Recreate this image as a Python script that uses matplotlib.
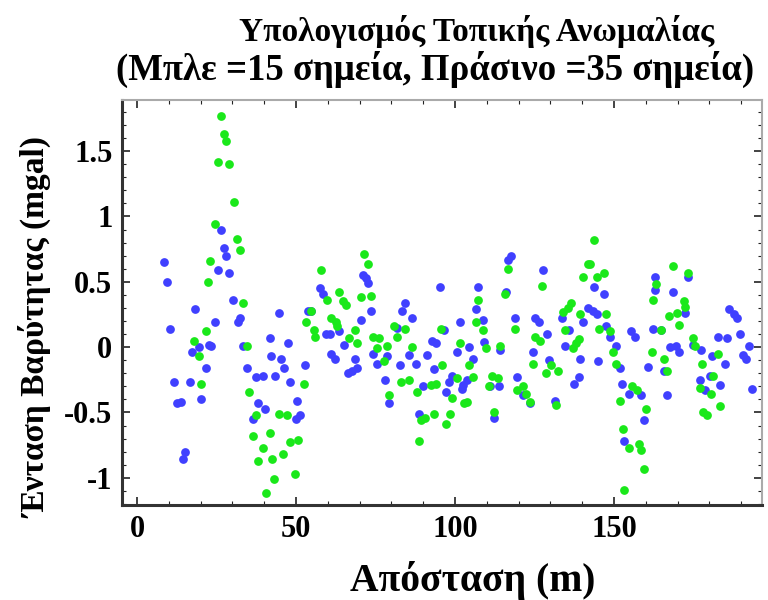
import matplotlib
matplotlib.use("Agg")
import matplotlib.pyplot as plt
from matplotlib.ticker import MultipleLocator, FixedLocator, FixedFormatter

plt.rcParams['font.family'] = ['Liberation Serif', 'DejaVu Serif']
plt.rcParams['axes.unicode_minus'] = False

# Blue = 15 points, green = 35 points
blue_x = [8.6, 9.5, 10.3, 11.5, 12.6, 13.9, 14.5, 15.2, 16.8, 17.3, 18.1, 19.4, 20.2, 21.8,
          22.7, 23.4, 24.6, 25.4, 26.5, 27.4, 28.1, 29.0, 30.2, 31.8, 32.3, 33.3, 34.6, 36.5,
          37.5, 38.1, 39.6, 40.2, 41.7, 42.2, 43.3, 44.6, 45.4, 46.2, 47.5, 48.0, 50.1, 50.3,
          51.2, 52.7, 53.8, 54.8, 57.5, 58.5, 59.5, 60.6, 61.1, 62.2, 63.5, 65.1, 66.4, 67.7,
          68.5, 69.3, 70.5, 71.2, 72.1, 72.7, 73.5, 74.2, 75.4, 77.9, 78.5, 79.2, 81.9, 82.7,
          83.4, 84.2, 85.5, 86.4, 87.6, 88.7, 90.0, 91.3, 92.9, 93.4, 93.9, 95.3, 96.5, 97.2,
          98.2, 99.0, 100.7, 101.6, 102.1, 102.6, 103.7, 104.5, 105.8, 106.6, 107.3, 108.7,
          109.2, 111.0, 112.3, 113.9, 114.2, 116.0, 116.8, 117.5, 118.9, 119.5, 121.5, 123.6,
          124.4, 125.2, 126.5, 127.6, 129.0, 129.7, 131.5, 133.6, 134.7, 136.0, 137.5, 139.1,
          139.4, 140.3, 141.7, 143.3, 143.8, 144.7, 145.0, 147.0, 147.5, 148.8, 150.6, 151.9,
          152.5, 153.2, 154.6, 155.3, 156.7, 158.5, 159.5, 160.8, 162.3, 162.8, 163.0, 164.9,
          165.6, 166.7, 167.7, 168.5, 169.5, 170.4, 172.4, 173.3, 175.0, 176.9, 177.5, 178.7,
          180.3, 180.8, 182.7, 183.4, 184.8, 185.5, 186.3, 187.6, 188.7, 189.7, 190.5, 191.5,
          192.5, 193.4]
blue_y = [0.655, 0.50, 0.135, -0.27, -0.43, -0.42, -0.86, -0.80, -0.27, -0.04, 0.29, 0.00, -0.40, -0.16,
          0.02, 0.01, 0.19, 0.59, 0.90, 0.76, 0.70, 0.57, 0.36, 0.19, 0.22, 0.01, -0.16, -0.55,
          -0.23, -0.43, -0.22, -0.47, 0.07, -0.07, -0.22, 0.26, -0.09, -0.16, 0.03, -0.27, -0.55, -0.41,
          -0.52, -0.14, 0.28, 0.28, 0.45, 0.41, 0.10, 0.10, -0.05, -0.09, 0.12, 0.02, -0.20, -0.18,
          -0.09, -0.16, 0.21, 0.55, 0.53, 0.49, 0.28, -0.05, -0.13, -0.25, -0.07, -0.43, 0.15, -0.14,
          0.28, 0.34, -0.06, 0.22, -0.13, -0.51, -0.30, -0.06, 0.05, -0.17, 0.03, 0.46, 0.13, -0.34,
          -0.27, -0.22, -0.04, 0.19, -0.32, -0.29, -0.25, 0.00, -0.09, 0.29, 0.46, 0.21,
          0.04, -0.30, -0.54, -0.30, -0.02, 0.42, 0.67, 0.70, 0.22, -0.23, -0.37, -0.43,
          -0.04, 0.22, 0.19, 0.59, 0.10, -0.10, -0.41, 0.22, 0.01, 0.13, -0.28, -0.23,
          -0.09, 0.19, 0.30, 0.28, 0.46, 0.25, -0.11, 0.41, 0.16, 0.08, 0.01, -0.16,
          -0.28, -0.72, -0.36, 0.12, 0.08, -0.37, -0.56, -0.15, 0.14, 0.44, 0.54, 0.13,
          -0.18, -0.37, 0.00, 0.42, 0.01, -0.04, 0.26, 0.54, 0.02, -0.25, -0.02, -0.33,
          -0.22, -0.07, 0.08, -0.29, -0.13, 0.07, 0.29, 0.25, 0.22, 0.10, -0.06, -0.09,
          0.01, -0.32]

green_x = [17.8, 19.6, 20.1, 21.8, 22.3, 23.0, 24.4, 25.4, 26.5, 27.3, 28.1, 29.0, 30.4, 31.5,
           32.4, 33.2, 34.6, 35.2, 36.6, 37.3, 38.1, 39.6, 40.4, 41.7, 42.3, 43.2, 44.5, 45.9,
           47.3, 48.0, 49.6, 50.6, 52.5, 53.2, 54.6, 55.7, 56.1, 58.0, 59.8, 61.1, 62.5, 63.0,
           63.5, 64.9, 65.6, 66.7, 68.5, 69.3, 70.5, 71.4, 72.6, 73.5, 74.2, 75.6, 76.1, 77.7,
           78.5, 79.2, 80.8, 81.6, 82.9, 84.2, 85.5, 86.6, 87.9, 88.7, 89.4, 90.5, 92.3, 93.4,
           93.9, 95.5, 95.9, 97.2, 98.4, 99.0, 100.5, 101.6, 102.8, 103.7, 104.5, 105.8, 106.6,
           107.3, 108.7, 109.8, 110.8, 111.5, 112.3, 113.6, 114.2, 115.7, 116.8, 118.9, 119.6,
           121.5, 122.3, 123.6, 124.6, 125.2, 126.7, 127.3, 128.6, 130.2, 131.7, 132.3, 133.9,
           134.7, 135.4, 136.4, 137.0, 138.1, 138.9, 139.4, 140.3, 141.7, 142.5, 143.8, 144.6,
           145.3, 147.0, 147.5, 148.8, 149.6, 150.6, 151.9, 152.8, 153.2, 154.6, 155.7, 157.1,
           157.8, 158.5, 159.5, 160.1, 162.0, 162.2, 163.2, 164.9, 165.6, 166.7, 167.2, 168.5,
           169.8, 170.5, 171.9, 172.4, 173.3, 174.7, 175.4, 176.9, 177.7, 177.9, 179.3, 180.5,
           181.0, 182.7, 183.4]
green_y = [0.05, -0.07, -0.28, 0.12, 0.50, 0.66, 0.94, 1.42, 1.77, 1.63, 1.58, 1.40, 1.11, 0.83,
           0.74, 0.34, 0.01, -0.34, -0.68, -0.52, -0.87, -0.77, -1.12, -0.66, -0.86, -1.01, -0.51, -0.82,
           -0.52, -0.73, -0.97, -0.71, -0.28, 0.19, 0.28, 0.13, 0.08, 0.59, 0.36, 0.22, 0.19, 0.16,
           0.42, 0.35, 0.32, 0.07, 0.13, 0.03, 0.38, 0.71, 0.64, 0.39, 0.08, -0.01, 0.07, -0.11,
           0.01, -0.37, 0.16, 0.08, -0.27, 0.14, -0.25, 0.00, -0.34, -0.72, -0.56, -0.54, -0.29, -0.51,
           -0.28, 0.14, -0.14, -0.59, -0.51, -0.39, -0.24, 0.03, -0.43, -0.42, -0.14, -0.23, 0.19,
           0.36, 0.13, -0.01, -0.30, -0.22, -0.50, -0.24, 0.01, 0.41, 0.60, 0.14, -0.33,
           -0.30, -0.36, -0.42, -0.13, 0.08, 0.05, 0.47, -0.20, -0.14, -0.44, -0.18, 0.27,
           0.13, 0.30, 0.34, -0.01, 0.03, 0.06, 0.25, 0.54, 0.64, 0.64, 0.82, 0.54,
           0.14, 0.57, 0.25, 0.12, -0.04, -0.13, -0.41, -0.63, -1.09, -0.77, -0.30, -0.33,
           -0.74, -0.79, -0.93, -0.47, -0.04, 0.36, 0.48, 0.13, -0.09, -0.18, 0.24, 0.62,
           0.26, 0.17, 0.35, 0.31, 0.57, 0.07, 0.01, -0.31, -0.13, -0.50, -0.52, -0.36,
           -0.22, -0.05, -0.45]

y_ticks = [-1, -0.5, 0, 0.5, 1, 1.5]
y_labels = ['-1', '-0.5', '0', '0.5', '1', '1.5']
x_ticks = [0, 50, 100, 150]

fig = plt.figure(figsize=(7.68, 6), dpi=100)
ax = fig.add_axes([0.159, 0.158, 0.833, 0.675])

ax.plot(blue_x, blue_y, 'o', color='#4040ff', markersize=6.3, markeredgewidth=0)
ax.plot(green_x, green_y, 'o', color='#1ae81a', markersize=6.3, markeredgewidth=0)

ax.set_xlim(-4.7, 196.5)
ax.set_ylim(-1.21, 1.89)

ax.xaxis.set_major_locator(FixedLocator(x_ticks))
ax.xaxis.set_minor_locator(MultipleLocator(10))
ax.yaxis.set_major_locator(FixedLocator(y_ticks))
ax.yaxis.set_major_formatter(FixedFormatter(y_labels))
ax.yaxis.set_minor_locator(MultipleLocator(0.1))

ax.tick_params(which='both', direction='in', top=True, right=True, color='#222222')
ax.tick_params(which='major', length=6, width=1.2, labelsize=22, pad=7)
ax.tick_params(which='minor', length=3, width=0.8)
for lab in ax.get_xticklabels() + ax.get_yticklabels():
    lab.set_fontweight('bold')

for side in ['left', 'bottom']:
    ax.spines[side].set_linewidth(2.2)
    ax.spines[side].set_color('#333333')
for side in ['top', 'right']:
    ax.spines[side].set_linewidth(1.5)
    ax.spines[side].set_color('#aaaaaa')

fig.text(0.62, 0.948, 'Υπολογισμός Τοπικής Ανωμαλίας', ha='center', va='center',
         fontsize=24, fontweight='bold')
fig.text(0.567, 0.885, '(Μπλε =15 σημεία, Πράσινο =35 σημεία)', ha='center', va='center',
         fontsize=26.5, fontweight='bold')
fig.text(0.615, 0.033, 'Απόσταση (m)', ha='center', va='center',
         fontsize=28.5, fontweight='bold')
fig.text(0.046, 0.455, 'Ένταση Βαρύτητας (mgal)', ha='center', va='center',
         rotation=90, fontsize=24, fontweight='bold')

fig.savefig('out.png', dpi=100)
